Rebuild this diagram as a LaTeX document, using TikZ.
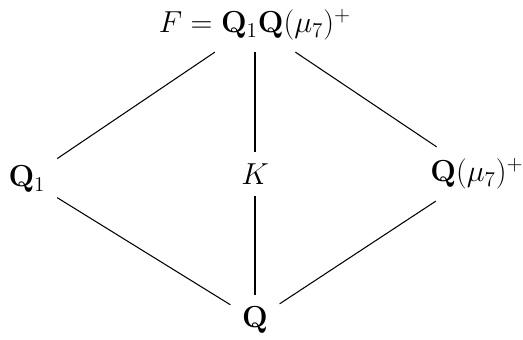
\documentclass[tikz,border=0pt]{standalone}
\usepackage{amsmath,amssymb}
\usepackage{tikz}
\usetikzlibrary{positioning}

\begin{document}
\begin{tikzpicture}[x=0.02cm,y=-0.02cm,
  field/.style={font=\fontsize{18}{22}\selectfont,inner sep=6.5pt},
  edge/.style={line width=0.6pt}]
\useasboundingbox (0,0) rectangle (523,340);

\node[field] (top) at (255,25) {$F=\mathbf{Q}_1\mathbf{Q}(\mu_7)^+$};
\node[field] (left) at (27,179) {$\mathbf{Q}_1$};
\node[field] (mid) at (255,174) {$K$};
\node[field] (right) at (477,174) {$\mathbf{Q}(\mu_7)^+$};
\node[field] (bot) at (255,320) {$\mathbf{Q}$};

\draw[edge] (top) -- (left);
\draw[edge] (top) -- (mid);
\draw[edge] (top) -- (right);
\draw[edge] (left) -- (bot);
\draw[edge] (mid) -- (bot);
\draw[edge] (right) -- (bot);

\end{tikzpicture}
\end{document}
